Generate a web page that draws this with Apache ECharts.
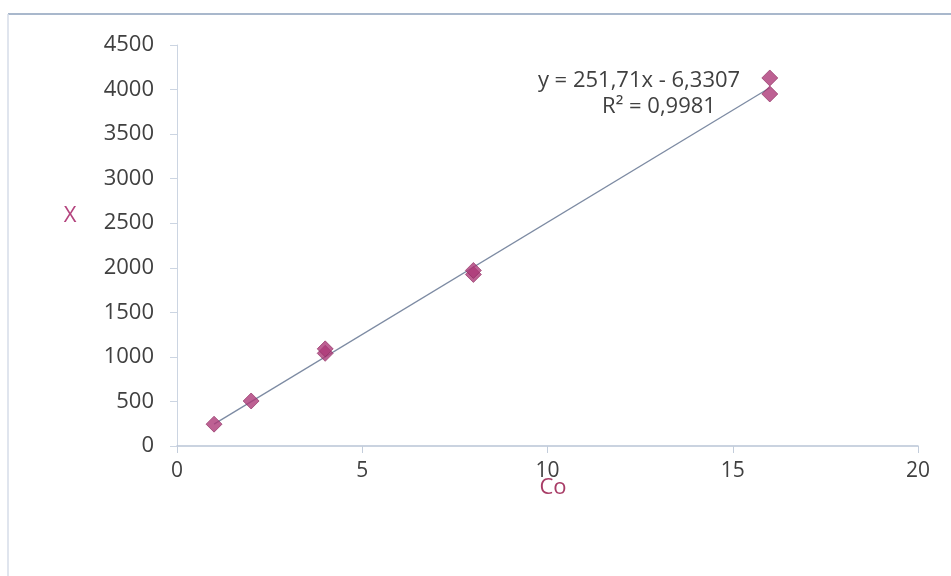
<!DOCTYPE html>
<html>
<head>
<meta charset="utf-8">
<script src="https://cdn.jsdelivr.net/npm/echarts@6/dist/echarts.min.js"></script>
<style>
html,body{margin:0;padding:0;background:#fff;}
#chart{width:951px;height:576px;}
</style>
</head>
<body>
<div id="chart"></div>
<script>
// Data
const coValues = [1, 2, 4, 4, 8, 8, 16, 16];
const xValues = [245, 505, 1040, 1090, 1925, 1970, 3950, 4130];
const trendSlope = 251.71;
const trendIntercept = -6.3307;
const trendText = 'y = 251,71x - 6,3307';
const r2Text = 'R² = 0,9981';
const xAxisTitle = 'Co';
const yAxisTitle = 'X';

const points = coValues.map((c, i) => [c, xValues[i]]);
const xMinData = Math.min(...coValues);
const xMaxData = Math.max(...coValues);
const trendLine = [
  [xMinData, trendSlope * xMinData + trendIntercept],
  [xMaxData, trendSlope * xMaxData + trendIntercept]
];

const chart = echarts.init(document.getElementById('chart'));
const font = 'Open Sans';
chart.setOption({
  animation: false,
  backgroundColor: '#ffffff',
  grid: { left: 177, right: 33, top: 45, bottom: 130 },
  graphic: [
    { type: 'line', shape: { x1: 8, y1: 14, x2: 951, y2: 14 }, style: { stroke: '#a9b8cc', lineWidth: 2 } },
    { type: 'line', shape: { x1: 8, y1: 14, x2: 8, y2: 576 }, style: { stroke: '#d6dde8', lineWidth: 1.5 } },
    { type: 'text', x: 639, y: 81, style: { text: trendText, font: '22px "Open Sans"', fill: '#404040', align: 'center', verticalAlign: 'middle' } },
    { type: 'text', x: 659, y: 107, style: { text: r2Text, font: '22px "Open Sans"', fill: '#404040', align: 'center', verticalAlign: 'middle' } },
    { type: 'text', x: 70, y: 216, style: { text: yAxisTitle, font: '22px "Open Sans"', fill: '#b4447e', align: 'center', verticalAlign: 'middle' } },
    { type: 'text', x: 553, y: 488, style: { text: xAxisTitle, font: '22px "Open Sans"', fill: '#a83c66', align: 'center', verticalAlign: 'middle' } }
  ],
  xAxis: {
    type: 'value', min: 0, max: 20, interval: 5,
    axisLine: { show: true, lineStyle: { color: '#b9c5d6', width: 1.5 } },
    axisTick: { show: true, inside: false, length: 7, lineStyle: { color: '#c3cddb' } },
    axisLabel: { color: '#404040', fontFamily: font, fontSize: 21, margin: 15, formatter: v => String(v) },
    splitLine: { show: false }
  },
  yAxis: {
    type: 'value', min: 0, max: 4500, interval: 500,
    axisLine: { show: true, lineStyle: { color: '#ccd5e2', width: 1 } },
    axisTick: { show: true, inside: false, length: 7, lineStyle: { color: '#ccd5e2' } },
    axisLabel: { color: '#404040', fontFamily: font, fontSize: 22, margin: 23, formatter: v => String(v) },
    splitLine: { show: false }
  },
  series: [
    {
      type: 'line', data: trendLine, symbol: 'none', silent: true,
      lineStyle: { color: '#7d8ba3', width: 1.3 }, z: 2
    },
    {
      type: 'scatter', data: points, symbol: 'diamond', symbolSize: 16,
      itemStyle: { color: '#ad3a78', borderColor: '#8c2b5e', borderWidth: 0.8 }, z: 3
    }
  ]
});
</script>
</body>
</html>
